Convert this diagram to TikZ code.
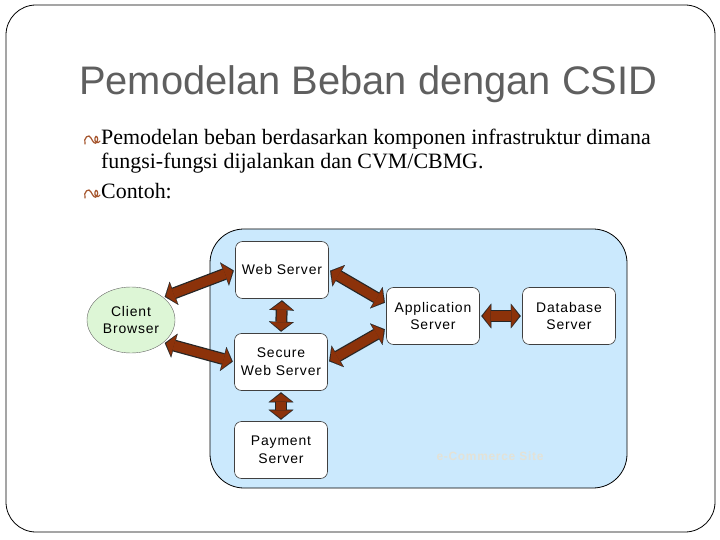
\documentclass[tikz,border=0pt]{standalone}
\usepackage{fontspec}
\setmainfont{Liberation Serif}
\newfontfamily\titlefont{Liberation Sans}
\newfontfamily\boxfont[LetterSpace=6]{Liberation Sans}
\usetikzlibrary{arrows.meta,shapes.geometric}

\definecolor{slidegray}{RGB}{95,95,95}
\definecolor{sitebg}{RGB}{203,233,253}
\definecolor{clientgreen}{RGB}{221,246,214}
\definecolor{arrowbrown}{RGB}{140,50,10}
\definecolor{bulletbrown}{RGB}{165,85,45}
\definecolor{faintlabel}{RGB}{228,226,214}

\tikzset{
	server/.style={draw=black!75, fill=white, rounded corners=7bp, line width=0.6pt,
		minimum width=93bp, minimum height=57bp, align=center,
		font=\boxfont\fontsize{14}{18}\selectfont},
	fat/.style={draw=black!85, line width=12pt, shorten <=1.5pt, shorten >=1.5pt,
		{Triangle[length=10pt,width=25pt,line width=0.1pt]}-{Triangle[length=10pt,width=25pt,line width=0.1pt]},
		postaction={draw=arrowbrown, line width=9.5pt, shorten <=2.9pt, shorten >=2.9pt,
			{Triangle[length=8pt,width=21.5pt,line width=0.1pt]}-{Triangle[length=8pt,width=21.5pt,line width=0.1pt]}}},
	slidetext/.style={anchor=base west, inner sep=0pt, font=\fontsize{22}{25}\selectfont},
	bulletmark/.pic={
		\draw[bulletbrown, line width=1.2pt, line cap=round]
			(0,2) .. controls (-2,-4) and (4,-9) .. (6,-4)
			.. controls (8,0) and (10,3) .. (12,0)
			.. controls (14,-4) and (11,-8) .. (10,-4)
			.. controls (9,0) and (13,2.5) .. (15,-1);
	}
}

\begin{document}
\begin{tikzpicture}[x=1bp, y=-1bp]
	\useasboundingbox (0,0) rectangle (720,540);
	% slide frame
	\draw[line width=0.8pt, rounded corners=30bp] (6,5) rectangle (715,532);
	\node[anchor=base west, inner sep=0pt, text=slidegray, font=\titlefont\fontsize{40}{48}\selectfont] (title) at (79,95) {Pemodelan Beban dengan CSID};
	% bullets
	\pic at (85,142) {bulletmark};
	\node[slidetext] (line1) at (101,145) {Pemodelan beban berdasarkan komponen infrastruktur dimana};
	\node[slidetext] (line2) at (101,169) {fungsi-fungsi dijalankan dan CVM/CBMG.};
	\pic at (85,196) {bulletmark};
	\node[slidetext] (line3) at (101,199) {Contoh:};
	% e-commerce site
	\draw[fill=sitebg, line width=0.8pt, rounded corners=34bp] (210,229) rectangle (627,488);
	\node[text=faintlabel, font=\boxfont\bfseries\fontsize{12}{14}\selectfont] (site) at (490,456) {e-Commerce Site};
	\node[ellipse, draw=black!60, fill=clientgreen, inner sep=0pt, minimum width=88bp, minimum height=66bp,
		align=center, font=\boxfont\fontsize{14}{18}\selectfont] (client) at (131,320) {Client\\Browser};
	\node[server] (web) at (282,270) {Web Server};
	\node[server] (secure) at (281,362) {Secure\\Web Server};
	\node[server] (payment) at (281,450) {Payment\\Server};
	\node[server] (app) at (433,316) {Application\\Server};
	\node[server] (db) at (569,316) {Database\\Server};
	\draw[fat] (client.35) -- (web.west);
	\draw[fat] (client.-35) -- (secure.west);
	\draw[fat] (web.east) -- (app.165);
	\draw[fat] (secure.east) -- (app.195);
	\draw[fat] (web.south) -- (secure.north);
	\draw[fat] (secure.south) -- (payment.north);
	\draw[fat] (app.east) -- (db.west);
\end{tikzpicture}
\end{document}
